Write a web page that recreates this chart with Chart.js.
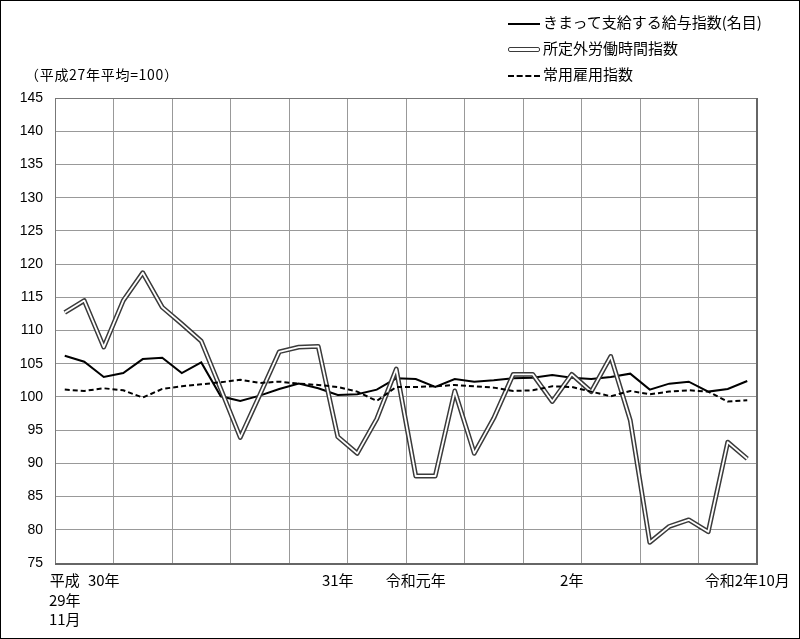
<!DOCTYPE html>
<html>
<head>
<meta charset="utf-8">
<script src="https://cdn.jsdelivr.net/npm/chart.js@4/dist/chart.umd.min.js"></script>
<style>
  body { margin: 0; background: #fff; }
  #wrap { position: relative; width: 800px; height: 639px; font-family: "Noto Sans CJK JP", sans-serif; color: #000; }
  #myChart { position: absolute; left: 0; top: 0; }
  .note { position: absolute; left: 25px; top: 64px; font-size: 14px; line-height: 20px; letter-spacing: 0.7px; }
  .leg { position: absolute; left: 508px; font-size: 15px; line-height: 20px; white-space: nowrap; }
  .leg span.mk { display: inline-block; width: 32px; vertical-align: middle; margin-right: 3px; box-sizing: border-box; }
  .mk.solid { border-top: 2px solid #000; }
  .mk.double { height: 5px; border: 1.5px solid #3a3a3a; background: #fff; border-radius: 2px; }
  .mk.dash { border-top: 2px dashed #000; }
</style>
</head>
<body>
<div id="wrap">
  <canvas id="myChart" width="800" height="639"></canvas>
  <div class="note">（平成27年平均=100）</div>
  <div class="leg" style="top:12px"><span class="mk solid"></span>きまって支給する給与指数(名目)</div>
  <div class="leg" style="top:38px"><span class="mk double"></span>所定外労働時間指数</div>
  <div class="leg" style="top:64px"><span class="mk dash"></span>常用雇用指数</div>
</div>
<script>
// 平成29年11月 〜 令和2年10月
const meses = ['2017-11','2017-12','2018-01','2018-02','2018-03','2018-04','2018-05','2018-06','2018-07','2018-08','2018-09','2018-10',
  '2018-11','2018-12','2019-01','2019-02','2019-03','2019-04','2019-05','2019-06','2019-07','2019-08','2019-09','2019-10',
  '2019-11','2019-12','2020-01','2020-02','2020-03','2020-04','2020-05','2020-06','2020-07','2020-08','2020-09','2020-10'];

const kyuyo = [106.2, 105.3, 103.0, 103.6, 105.7, 105.9, 103.6, 105.2, 100.1, 99.4, 100.2, 101.2,
  102.0, 101.3, 100.3, 100.4, 101.1, 102.8, 102.7, 101.5, 102.7, 102.3, 102.5, 102.8,
  102.9, 103.3, 102.9, 102.7, 103.0, 103.5, 101.1, 102.0, 102.3, 100.8, 101.2, 102.4];

const shoteigai = [112.7, 114.5, 107.5, 114.5, 118.7, 113.5, 111.0, 108.4, 101.2, 93.9, 100.3, 106.8,
  107.5, 107.6, 94.0, 91.5, 96.7, 104.2, 88.1, 88.1, 100.9, 91.5, 96.8, 103.4,
  103.4, 99.3, 103.4, 100.8, 106.1, 96.5, 78.1, 80.5, 81.5, 79.7, 93.2, 90.7];

const koyo = [101.1, 100.9, 101.3, 101.0, 99.9, 101.2, 101.6, 101.9, 102.2, 102.6, 102.1, 102.3,
  102.0, 101.8, 101.5, 100.8, 99.4, 101.5, 101.5, 101.6, 101.8, 101.6, 101.4, 100.9,
  101.0, 101.6, 101.5, 100.8, 100.1, 100.9, 100.4, 100.8, 101.0, 100.8, 99.3, 99.5];

// etiquetas del eje x (solo en algunos meses)
const tickIndex = [0, 2, 14, 18, 26, 35];
const tickText = [['平成', '29年', '11月'], '30年', '31年', '令和元年', '2年', '令和2年10月'];

const marco = {
    id: 'marco',
    afterDatasetsDraw(chart) {
        const a = chart.chartArea;
        const ctx = chart.ctx;
        ctx.save();
        ctx.strokeStyle = '#777';
        ctx.lineWidth = 1;
        ctx.strokeRect(a.left + 0.5, a.top + 0.5, a.right - a.left, a.bottom - a.top);
        ctx.strokeStyle = '#666';
        ctx.lineWidth = 2;
        ctx.beginPath();
        ctx.moveTo(a.right, a.top);
        ctx.lineTo(a.right, a.bottom + 1);
        ctx.lineTo(a.left, a.bottom + 1);
        ctx.stroke();
        ctx.restore();
    },
    afterDraw(chart) {
        const ctx = chart.ctx;
        ctx.save();
        ctx.strokeStyle = '#000';
        ctx.lineWidth = 1;
        ctx.strokeRect(0.5, 0.5, chart.width - 1, chart.height - 1);
        ctx.restore();
    }
};

const ctx = document.getElementById('myChart').getContext('2d');
const myChart = new Chart(ctx, {
    type: 'line',
    data: {
        labels: meses,
        datasets: [{
            label: 'きまって支給する給与指数(名目)',
            data: kyuyo,
            borderColor: '#000',
            borderWidth: 2,
            order: 4
        }, {
            label: '所定外労働時間指数',
            data: shoteigai,
            borderColor: '#3a3a3a',
            borderWidth: 4.8,
            borderJoinStyle: 'round',
            order: 3
        }, {
            label: '所定外労働時間指数(内)',
            data: shoteigai,
            borderColor: '#fff',
            borderWidth: 1.8,
            borderJoinStyle: 'round',
            order: 2
        }, {
            label: '常用雇用指数',
            data: koyo,
            borderColor: '#000',
            borderWidth: 2,
            borderDash: [5, 3],
            order: 1
        }]
    },
    options: {
        responsive: false,
        animation: false,
        layout: { padding: { top: 98, right: 43, left: 0, bottom: 0 } },
        elements: {
            point: { radius: 0 },
            line: { tension: 0, fill: false, borderJoinStyle: 'miter', borderCapStyle: 'butt' }
        },
        plugins: {
            legend: { display: false },
            tooltip: { enabled: false }
        },
        scales: {
            x: {
                offset: true,
                grid: {
                    offset: true,
                    drawTicks: false,
                    color: (c) => (c.index === undefined || c.index % 3 === 0) ? '#999' : 'rgba(0,0,0,0)'
                },
                border: { display: false },
                ticks: {
                    autoSkip: false,
                    maxRotation: 0,
                    minRotation: 0,
                    padding: 8,
                    color: '#000',
                    font: { family: '"Noto Sans CJK JP", sans-serif', size: 15, lineHeight: 1.3 },
                    callback: function (val, i) {
                        const k = tickIndex.indexOf(i);
                        return k >= 0 ? tickText[k] : '';
                    }
                },
                afterFit: (s) => { s.height = 76; }
            },
            y: {
                min: 75,
                max: 145,
                grid: { color: '#999', drawTicks: false },
                border: { display: false },
                ticks: {
                    stepSize: 5,
                    padding: 12,
                    color: '#000',
                    font: { family: '"Liberation Sans", sans-serif', size: 14 }
                },
                afterFit: (s) => { s.width = 55; }
            }
        }
    },
    plugins: [marco]
});
</script>
</body>
</html>
